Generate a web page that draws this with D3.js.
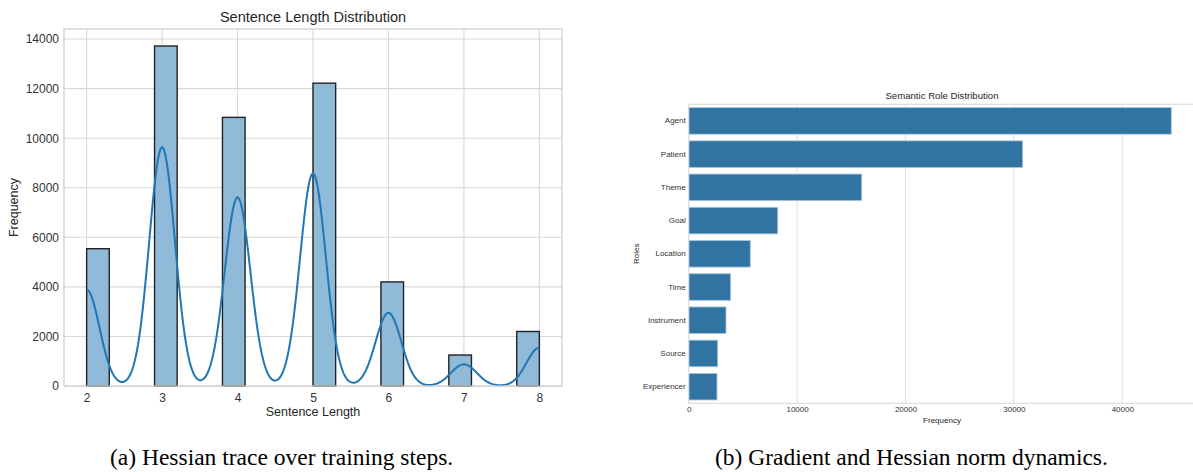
<!DOCTYPE html>
<html>
<head>
<meta charset="utf-8">
<script src="https://cdn.jsdelivr.net/npm/d3@7"></script>
<style>
  body { margin: 0; background: #fff; }
  svg { display: block; }
  text { font-family: "Liberation Sans", Arial, sans-serif; }
  .caption { font-family: "Liberation Serif", "Times New Roman", serif; }
</style>
</head>
<body>
<svg id="chart" width="1193" height="472"></svg>
<script>
// left panel: sentence length histogram
const sentLengths = [2, 3, 4, 5, 6, 7, 8];
const sentCounts = [5540, 13720, 10840, 12220, 4200, 1250, 2200];
const lenTicks = [2, 3, 4, 5, 6, 7, 8];
const freqTicks = [0, 2000, 4000, 6000, 8000, 10000, 12000, 14000];

// right panel: semantic roles
const roles = ['Agent', 'Patient', 'Theme', 'Goal', 'Location', 'Time', 'Instrument', 'Source', 'Experiencer'];
const roleCounts = [44520, 30810, 15960, 8210, 5680, 3870, 3440, 2675, 2610];
const roleTicks = [0, 10000, 20000, 30000, 40000];

const captions = ['(a) Hessian trace over training steps.', '(b) Gradient and Hessian norm dynamics.'];

const svg = d3.select('#chart');
svg.append('rect').attr('width', 1193).attr('height', 472).attr('fill', '#fff');

function drawHist() {
    const x0 = 64, x1 = 562, y0 = 29, y1 = 386;
    const nBins = 20;
    const lo = d3.min(sentLengths), hi = d3.max(sentLengths);
    const binW = (hi - lo) / nBins;
    const pad = (hi - lo) * 0.05;

    const x = d3.scaleLinear().domain([lo - pad, hi + pad]).range([x0, x1]);
    const y = d3.scaleLinear().domain([0, d3.max(sentCounts) * 1.05]).range([y1, y0]);

    const g = svg.append('g');

    // grid
    g.selectAll('.hg').data(freqTicks).enter().append('line')
        .attr('x1', x0).attr('x2', x1)
        .attr('y1', d => y(d)).attr('y2', d => y(d))
        .attr('stroke', '#d8d8d8').attr('stroke-width', 1.1);
    g.selectAll('.vg').data(lenTicks).enter().append('line')
        .attr('y1', y0).attr('y2', y1)
        .attr('x1', d => x(d)).attr('x2', d => x(d))
        .attr('stroke', '#d8d8d8').attr('stroke-width', 1.1);

    // bars
    const bins = sentLengths.map((v, i) => {
        let b = Math.floor((v - lo) / binW + 1e-9);
        if (b >= nBins) b = nBins - 1;
        return { start: lo + b * binW, count: sentCounts[i] };
    });
    g.selectAll('.bar').data(bins).enter().append('rect')
        .attr('x', d => x(d.start))
        .attr('width', d => x(d.start + binW) - x(d.start))
        .attr('y', d => y(d.count))
        .attr('height', d => y(0) - y(d.count))
        .attr('fill', '#8fbbd9')
        .attr('stroke', '#222').attr('stroke-width', 1.4);

    // kde (gaussian, scott bandwidth, scaled to counts like seaborn)
    const n = d3.sum(sentCounts);
    const mean = d3.sum(sentLengths, (v, i) => v * sentCounts[i]) / n;
    const variance = d3.sum(sentLengths, (v, i) => sentCounts[i] * (v - mean) ** 2) / (n - 1);
    const bw = Math.sqrt(variance) * Math.pow(n, -0.2);
    const grid = d3.range(0, 301).map(i => lo + (hi - lo) * i / 300);
    const kde = grid.map(t => {
        const dens = d3.sum(sentLengths, (v, i) =>
            sentCounts[i] * Math.exp(-0.5 * ((t - v) / bw) ** 2)) / (n * bw * Math.sqrt(2 * Math.PI));
        return [t, dens * n * binW];
    });
    g.append('path').datum(kde)
        .attr('d', d3.line().x(d => x(d[0])).y(d => y(d[1])))
        .attr('fill', 'none').attr('stroke', '#1f77b4').attr('stroke-width', 2);

    // frame
    g.append('rect').attr('x', x0).attr('y', y0).attr('width', x1 - x0).attr('height', y1 - y0)
        .attr('fill', 'none').attr('stroke', '#cfcfcf').attr('stroke-width', 1.3);

    // axes
    const ax = g.append('g').attr('transform', `translate(0,${y1})`)
        .call(d3.axisBottom(x).tickValues(lenTicks).tickSize(0).tickPadding(7).tickFormat(d3.format('d')));
    ax.select('.domain').remove();
    ax.selectAll('text').attr('font-size', 12).attr('fill', '#333').style('font-family', '"Liberation Sans", Arial, sans-serif');
    const ay = g.append('g').attr('transform', `translate(${x0},0)`)
        .call(d3.axisLeft(y).tickValues(freqTicks).tickSize(0).tickPadding(5).tickFormat(d3.format('d')));
    ay.select('.domain').remove();
    ay.selectAll('text').attr('font-size', 12).attr('fill', '#333').style('font-family', '"Liberation Sans", Arial, sans-serif');

    g.append('text').attr('x', (x0 + x1) / 2).attr('y', 22).attr('text-anchor', 'middle')
        .attr('font-size', 14.5).attr('fill', '#262626').text('Sentence Length Distribution');
    g.append('text').attr('x', (x0 + x1) / 2).attr('y', 416).attr('text-anchor', 'middle')
        .attr('font-size', 12.5).attr('fill', '#262626').text('Sentence Length');
    g.append('text').attr('transform', `translate(18,${(y0 + y1) / 2}) rotate(-90)`).attr('text-anchor', 'middle')
        .attr('font-size', 12.5).attr('fill', '#262626').text('Frequency');
}

function drawRoles() {
    const x0 = 688.7, y0 = 104.3, y1 = 403.3;
    const pxPer10k = 108.4;
    const xMax = d3.max(roleCounts) * 1.05;
    const x = d3.scaleLinear().domain([0, xMax]).range([x0, x0 + xMax / 10000 * pxPer10k]);
    const y = d3.scaleBand().domain(roles).range([y0, y1]).paddingInner(0.2).paddingOuter(0.1);
    const x1 = x(xMax);

    const g = svg.append('g');

    g.selectAll('.vg').data(roleTicks).enter().append('line')
        .attr('y1', y0).attr('y2', y1)
        .attr('x1', d => x(d)).attr('x2', d => x(d))
        .attr('stroke', '#e0e0e0').attr('stroke-width', 1);

    g.selectAll('.bar').data(roles).enter().append('rect')
        .attr('x', x(0))
        .attr('y', d => y(d))
        .attr('width', (d, i) => x(roleCounts[i]) - x(0))
        .attr('height', y.bandwidth())
        .attr('fill', '#3274a1')
        .attr('stroke', '#a9c8df').attr('stroke-width', 0.8);

    g.append('rect').attr('x', x0).attr('y', y0).attr('width', x1 - x0).attr('height', y1 - y0)
        .attr('fill', 'none').attr('stroke', '#dedede').attr('stroke-width', 1.2);

    const ax = g.append('g').attr('transform', `translate(0,${y1})`)
        .call(d3.axisBottom(x).tickValues(roleTicks).tickSize(0).tickPadding(3).tickFormat(d3.format('d')));
    ax.select('.domain').remove();
    ax.selectAll('text').attr('font-size', 8).attr('fill', '#333').style('font-family', '"Liberation Sans", Arial, sans-serif');
    const ay = g.append('g').attr('transform', `translate(${x0},0)`)
        .call(d3.axisLeft(y).tickSize(0).tickPadding(3));
    ay.select('.domain').remove();
    ay.selectAll('text').attr('font-size', 8).attr('fill', '#333').style('font-family', '"Liberation Sans", Arial, sans-serif');

    g.append('text').attr('x', 942).attr('y', 99).attr('text-anchor', 'middle')
        .attr('font-size', 9.6).attr('fill', '#262626').text('Semantic Role Distribution');
    g.append('text').attr('x', 942).attr('y', 423).attr('text-anchor', 'middle')
        .attr('font-size', 8).attr('fill', '#262626').text('Frequency');
    g.append('text').attr('transform', `translate(639,${(y0 + y1) / 2}) rotate(-90)`).attr('text-anchor', 'middle')
        .attr('font-size', 8).attr('fill', '#262626').text('Roles');
}

drawHist();
drawRoles();

svg.selectAll('.caption').data(captions).enter().append('text')
    .attr('class', 'caption')
    .attr('x', (d, i) => i === 0 ? 110 : 715)
    .attr('y', 465)
    .attr('text-anchor', 'start')
    .attr('font-size', 23.5)
    .attr('fill', '#000')
    .text(d => d);
</script>
</body>
</html>
